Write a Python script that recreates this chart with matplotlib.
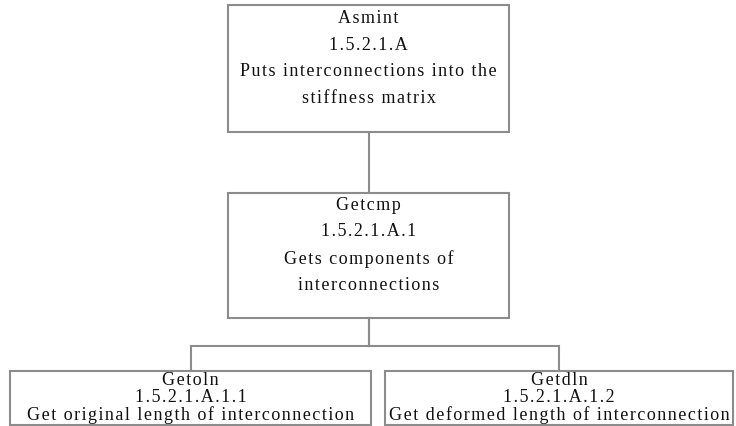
"""Tree chart of the Asmint routine and its sub-routines."""
import matplotlib
matplotlib.use("Agg")
import matplotlib.pyplot as plt
from matplotlib.patches import Rectangle

# node contents
names = ["Asmint", "Getcmp", "Getoln", "Getdln"]
codes = ["1.5.2.1.A", "1.5.2.1.A.1", "1.5.2.1.A.1.1", "1.5.2.1.A.1.2"]
descriptions = [
    "Puts interconnections into the\nstiffness matrix",
    "Gets components of\ninterconnections",
    "Get original length of interconnection",
    "Get deformed length of interconnection",
]
parents = [None, 0, 1, 1]

# layout in pixels (x0, y0, x1, y1), y going down
boxes = [
    (228, 5, 509, 132),
    (228, 193, 509, 318),
    (10, 371, 371, 425),
    (385, 371, 733, 425),
]
BUS_Y = 346  # y of the horizontal line joining the two bottom boxes

LINE = "#8c8c8c"
W, H = 736, 426


def spaced(s):
    # the original is set with loose letter spacing
    return "\n".join("\u200a".join(line) for line in s.split("\n"))


fig = plt.figure(figsize=(W / 100, H / 100), dpi=100)
ax = fig.add_axes([0, 0, 1, 1])
ax.set_xlim(0, W)
ax.set_ylim(H, 0)
ax.axis("off")

for i, (x0, y0, x1, y1) in enumerate(boxes):
    ax.add_patch(Rectangle((x0, y0), x1 - x0, y1 - y0, fill=False,
                           edgecolor=LINE, linewidth=1.5))
    txt = spaced(f"{names[i]}\n{codes[i]}\n{descriptions[i]}")
    tall = (y1 - y0) > 80
    ax.text((x0 + x1) / 2, (y0 + y1) / 2 + (-10 if tall else 0), txt,
            ha="center", va="center", fontsize=13,
            family=["Liberation Serif", "DejaVu Serif"], color="#111111",
            linespacing=1.72 if tall else 0.98)

# connectors
for i, p in enumerate(parents):
    if p is None:
        continue
    px = (boxes[p][0] + boxes[p][2]) / 2
    cx = (boxes[i][0] + boxes[i][2]) / 2
    py = boxes[p][3]
    cy = boxes[i][1]
    kids = [j for j, q in enumerate(parents) if q == p]
    if len(kids) == 1:
        ax.plot([px, cx], [py, cy], color=LINE, lw=1.5)
    else:
        ax.plot([px, px], [py, BUS_Y], color=LINE, lw=1.5)
        ax.plot([px, cx], [BUS_Y, BUS_Y], color=LINE, lw=1.5)
        ax.plot([cx, cx], [BUS_Y, cy], color=LINE, lw=1.5)

plt.savefig("out.png", dpi=100)
